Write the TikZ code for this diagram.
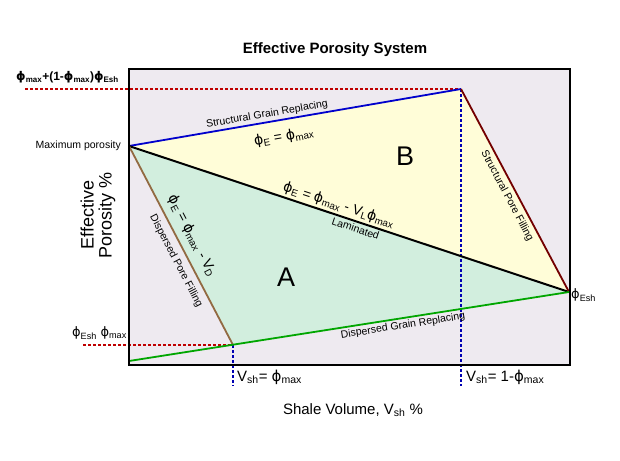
\documentclass[tikz,border=0pt]{standalone}
\usepackage{fontspec}
\setmainfont{Liberation Sans}
\newfontfamily\djv{DejaVu Sans}
\newcommand{\ph}{{\djv ϕ}}
\newcommand{\sbs}[1]{\textsubscript{#1}}
\begin{document}
\begin{tikzpicture}[x=1pt,y=-1pt,
  lbl/.style={font=\fontsize{10.5}{12}\selectfont, inner sep=2pt, text=black},
  eq/.style={font=\fontsize{14}{15}\selectfont, inner sep=2pt, text=black},
  big/.style={font=\fontsize{27}{30}\selectfont},
  vdash/.style={blue!70!black, densely dashed, line width=1.4pt},
  rdash/.style={red!75!black, densely dashed, line width=1.2pt}]
\useasboundingbox (0,0) rectangle (620,460);
\coordinate (bl) at (129,365); \coordinate (tr) at (570,69);
\coordinate (mp) at (129,146);
\coordinate (tp) at (461,89);
\coordinate (esh) at (569,292);
\coordinate (g0) at (129,361);
\coordinate (dp) at (233,345);
\fill[fill={rgb,255:red,238;green,234;blue,240}] (bl) rectangle (tr);
\fill[fill={rgb,255:red,255;green,253;blue,216}] (mp) -- (tp) -- (esh) -- cycle;
\fill[fill={rgb,255:red,210;green,238;blue,222}] (mp) -- (esh) -- (dp) -- cycle;
% dashed guides
\coordinate (rl1) at (25,89); \coordinate (rl2) at (83,345);
\coordinate (vb1) at (233,386); \coordinate (vb2) at (461,386);
\draw[rdash] (rl1) -- (tp);
\draw[rdash] (rl2) -- (dp);
\draw[vdash] (dp) -- (vb1);
\draw[vdash] (tp) -- (vb2);
% lines
\draw[blue!80!black, line width=1.8pt] (mp) -- node[lbl, sloped, above, pos=0.42]{Structural Grain Replacing} (tp);
\draw[black, line width=2pt] (mp) -- node[eq, sloped, above, pos=0.47]{\ph\sbs{E} = \ph\sbs{max} - V\sbs{L}\ph\sbs{max}} node[lbl, sloped, below, pos=0.52]{Laminated} (esh);
\draw[brown!70!black!90, line width=1.8pt] (mp) -- (dp);
\draw[red!45!black, line width=1.8pt] (tp) -- (esh);
\draw[green!65!black, line width=1.8pt] (g0) -- node[lbl, sloped, below, pos=0.62]{Dispersed Grain Replacing} (esh);
\draw[line width=2pt] (bl) rectangle (tr);
% texts
\node[lbl, rotate=-62.4] (dpf) at (176,261) {Dispersed Pore Filling};
\node[eq, rotate=-62.4] (deq) at (192,236) {\ph\sbs{E} = \ph\sbs{max} - V\sbs{D}};
\node[lbl, rotate=-62] (spf) at (507,196) {Structural Pore Filling};
\node[eq, rotate=9.7] (e1) at (284,137) {\ph\sbs{E} = \ph\sbs{max}};
\node[big] (B) at (405,156) {B};
\node[big] (A) at (286,277) {A};
\node[font=\bfseries\fontsize{15}{18}\selectfont] (t) at (335,50) {Effective Porosity System};
\node[lbl, anchor=east] (mx) at (123,146) {Maximum porosity};
\node[font=\bfseries\fontsize{12}{14}\selectfont, anchor=west, inner sep=0] (top) at (16,77) {\ph\sbs{max}+(1-\ph\sbs{max})\ph\sbs{Esh}};
\node[font=\fontsize{13}{15}\selectfont, anchor=east, inner sep=0] (lo) at (127,333) {\ph\sbs{Esh} \ph\sbs{max}};
\node[font=\fontsize{13}{15}\selectfont, anchor=west, inner sep=0] (ee) at (571,295) {\ph\sbs{Esh}};
\node[font=\fontsize{15}{17}\selectfont, anchor=west, inner sep=0] (v1) at (237,377) {V\sbs{sh}= \ph\sbs{max}};
\node[font=\fontsize{15}{17}\selectfont, anchor=west, inner sep=0] (v2) at (466,377) {V\sbs{sh}= 1-\ph\sbs{max}};
\node[font=\fontsize{15}{17}\selectfont] (xl) at (353,410) {Shale Volume, V\sbs{sh} \%};
\node[font=\fontsize{18}{18}\selectfont, rotate=90, align=center] (yl) at (98,215) {Effective\\Porosity \%};
\end{tikzpicture}
\end{document}
